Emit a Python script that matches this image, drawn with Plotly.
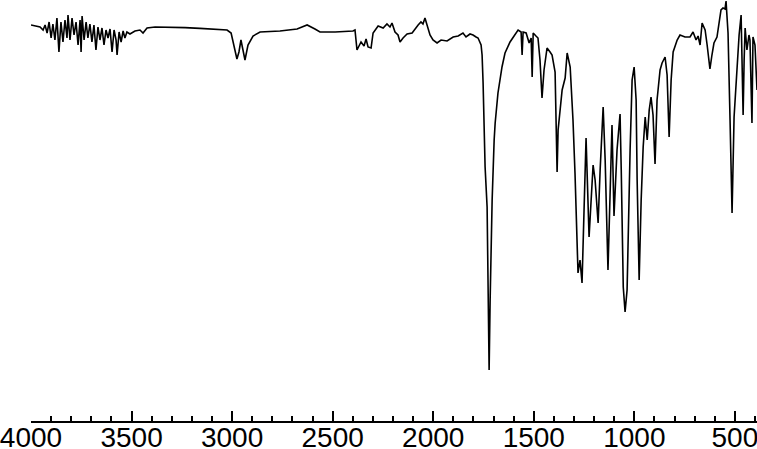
import plotly.graph_objects as go

# IR spectrum: wavenumber (cm-1) and transmittance (%)
wavenumber = [
    4000, 3975, 3955, 3940, 3930, 3920, 3910, 3900, 3891, 3881, 3871, 3861, 3851, 3841,
    3831, 3821, 3816, 3806, 3796, 3786, 3776, 3766, 3756, 3751, 3746, 3736, 3726, 3717,
    3707, 3697, 3687, 3677, 3667, 3657, 3647, 3637, 3627, 3617, 3607, 3597, 3587, 3577,
    3572, 3562, 3552, 3542, 3533, 3523, 3508, 3483, 3458, 3443, 3423, 3383, 3309, 3234,
    3160, 3085, 3025, 3005, 2990, 2976, 2966, 2956, 2946, 2936, 2921, 2896, 2861, 2762,
    2677, 2627, 2588, 2563, 2488, 2399, 2389, 2379, 2359, 2344, 2334, 2324, 2309, 2299,
    2274, 2249, 2230, 2215, 2205, 2190, 2175, 2165, 2150, 2130, 2105, 2085, 2075, 2061,
    2051, 2041, 2031, 2016, 2001, 1981, 1961, 1931, 1901, 1876, 1852, 1837, 1817, 1802,
    1787, 1777, 1762, 1757, 1752, 1742, 1732, 1727, 1722, 1717, 1707, 1697, 1692, 1678,
    1658, 1643, 1618, 1598, 1578, 1563, 1558, 1553, 1538, 1523, 1513, 1508, 1503, 1489,
    1479, 1469, 1459, 1449, 1434, 1419, 1409, 1394, 1389, 1384, 1379, 1364, 1359, 1344,
    1334, 1319, 1305, 1295, 1285, 1280, 1270, 1260, 1250, 1240, 1225, 1205, 1195, 1180,
    1170, 1155, 1145, 1131, 1111, 1101, 1086, 1071, 1065, 1055, 1046, 1036, 1021, 1011,
    1001, 991, 986, 976, 966, 956, 946, 936, 926, 917, 907, 897, 887, 872,
    862, 847, 837, 827, 817, 807, 787, 773, 748, 723, 708, 693, 683, 673,
    663, 648, 638, 624, 614, 604, 589, 579, 569, 559, 549, 544, 539, 534,
    524, 514, 504, 489, 479, 469, 464, 459, 454, 449, 440, 430, 425, 415,
    410, 400, 390,
]
transmittance = [
    93.75, 93.5, 93.25, 92.5, 93.75, 91.75, 94.5, 90.5, 94, 90, 95.5, 87, 94.5, 89.5,
    95, 90.5, 96.25, 90, 95.5, 91.25, 94.5, 88.75, 95, 87, 96, 90, 94.5, 90.5,
    94, 89.5, 93.75, 87.5, 93.25, 90, 93, 88.75, 92.5, 90.5, 92.75, 87, 92.5, 90,
    86.25, 92, 89.5, 92.25, 90.5, 92, 91.5, 92.25, 92.5, 91.75, 93, 93.25, 93.25, 93.1,
    92.9, 92.6, 92.5, 91.75, 88.75, 85.25, 87, 90, 87.5, 85, 88.75, 91, 92, 92.25,
    92.75, 93.75, 92.75, 92, 92, 92.25, 92.5, 87.5, 89.5, 88.5, 90.25, 88.25, 88, 91.75,
    93.5, 93, 94, 93.25, 94.25, 92, 91.25, 89.5, 90.5, 91.5, 91.75, 93.25, 93.75, 94.5,
    94, 95.5, 93.75, 91.25, 90, 89.25, 90, 89.75, 90.75, 91, 91.75, 90.75, 91.5, 91.25,
    90.75, 90.5, 88.75, 86.25, 79.25, 58.25, 48.25, 27.5, 7.5, 25, 50, 65, 69.25, 76.75,
    83.25, 86.75, 89.5, 91, 92.5, 92, 86.25, 92, 91.75, 89.25, 90.5, 80.75, 91.75, 91,
    90.5, 85, 75.5, 82.5, 88, 87, 86.25, 82, 70, 57, 67.5, 76.25, 77.5, 80.5,
    86.75, 83.25, 70, 56.75, 43.25, 31.75, 35, 29.25, 47.5, 65.5, 40.75, 58.75, 55, 44.25,
    57.5, 73.25, 60, 32.5, 68.75, 46, 62.5, 71.5, 57.5, 28.25, 22, 27.5, 62.5, 80,
    83.25, 75, 55, 30, 50, 63.25, 70.75, 65, 72.5, 75.75, 71.25, 59, 75, 82.5,
    84.25, 85.75, 81.25, 65.75, 80, 87, 90, 91.25, 90.75, 90.75, 92, 90, 91, 88.75,
    94.25, 92.5, 88.75, 82.75, 86.25, 89.25, 90.75, 94.5, 97.5, 98, 97.75, 99.75, 96.25, 91.75,
    70, 46.75, 70.75, 83.25, 91.25, 96.25, 85, 71.25, 85, 93, 87.5, 91.25, 90, 69.25,
    90.75, 88.75, 77.5,
]

tick_values = [4000, 3500, 3000, 2500, 2000, 1500, 1000, 500]
tick_labels = ["4000", "3500", "3000", "2500", "2000", "1500", "1000", "500"]

fig = go.Figure(go.Scatter(
    x=wavenumber, y=transmittance, mode="lines",
    line=dict(color="black", width=1.6),
))

fig.update_layout(
    width=757, height=449,
    margin=dict(l=31, r=0, t=0, b=28),
    paper_bgcolor="white", plot_bgcolor="white",
    showlegend=False,
    font=dict(family="Liberation Sans, Arial, sans-serif", color="black"),
)
fig.update_xaxes(
    range=[4000, 390], automargin=False,
    tickmode="array", tickvals=tick_values, ticktext=tick_labels,
    ticks="inside", ticklen=10, tickwidth=2, tickcolor="black",
    minor=dict(dtick=100, tick0=0, ticks="inside", ticklen=5, tickwidth=2, tickcolor="black"),
    showline=True, linecolor="black", linewidth=2,
    showgrid=False, zeroline=False,
    tickfont=dict(size=28), ticklabeloverflow="allow", ticklabelstandoff=-10,
)
fig.update_yaxes(range=[-5.25, 100], visible=False, automargin=False)

# the page's default body margin would push the figure off by 8 px
fig.write_html("out.html", config={"displayModeBar": False},
               post_script="document.body.style.margin = '0';")
